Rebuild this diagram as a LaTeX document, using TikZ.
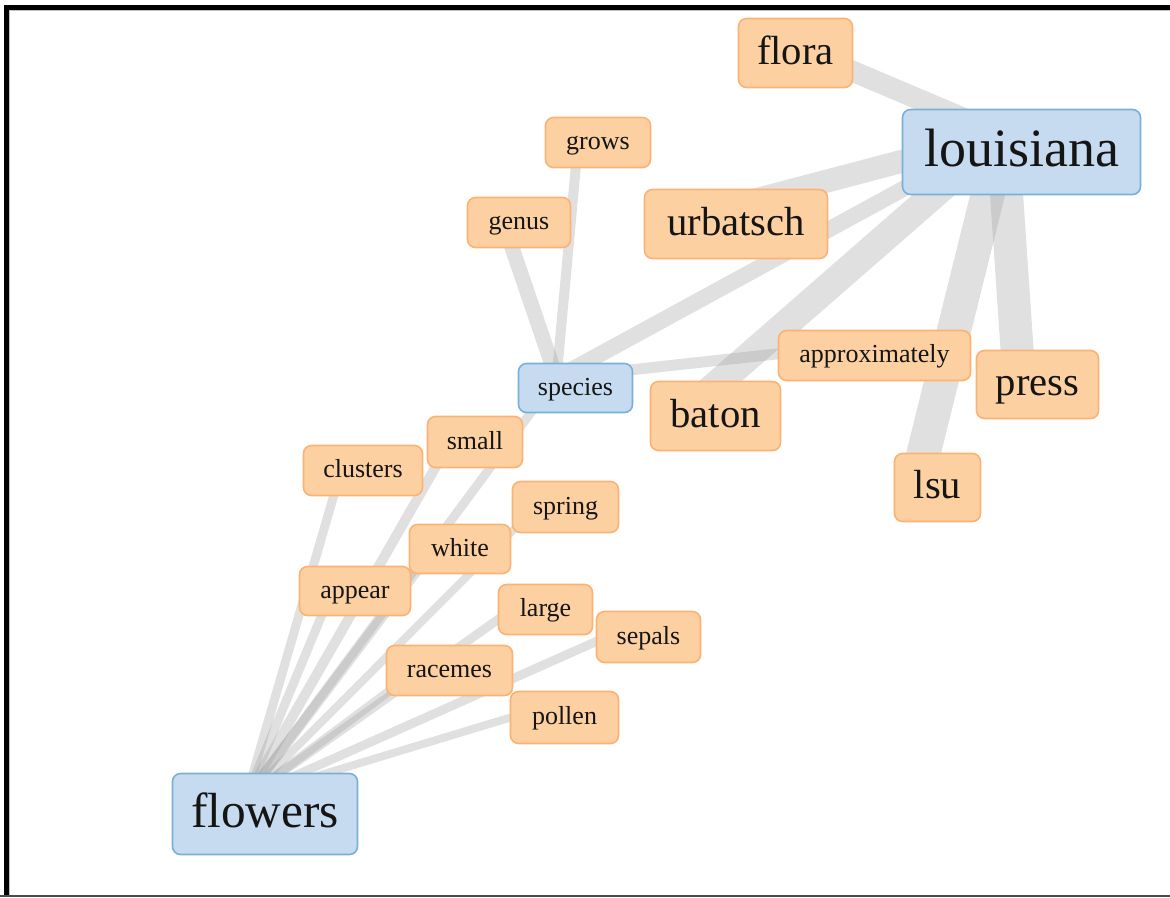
\documentclass[tikz,border=0pt]{standalone}
\usepackage{fontspec}
\setmainfont{Liberation Serif}
\usetikzlibrary{calc}
\pgfdeclarelayer{bg}
\pgfsetlayers{bg,main}
\definecolor{blueF}{HTML}{C6DBEF}
\definecolor{blueD}{HTML}{78B0DA}
\definecolor{orF}{HTML}{FDD0A2}
\definecolor{orD}{HTML}{FBB273}
\definecolor{edgeC}{HTML}{999999}
\definecolor{txt}{HTML}{151515}
\begin{document}
\begin{tikzpicture}[x=0.75pt,y=-0.75pt,
  box/.style={draw, rounded corners=6pt, line width=1.2pt, inner sep=0pt, text=txt, fsmall},
  fsmall/.style={font=\fontsize{19.5}{22}\selectfont, text height=14pt, text depth=3.5pt},
  fmed/.style={font=\fontsize{30.5}{34}\selectfont, text height=22pt, text depth=5.5pt},
  fhuge/.style={font=\fontsize{40.5}{44}\selectfont, text height=29.2pt, text depth=7.3pt},
  fflow/.style={font=\fontsize{37}{40}\selectfont, text height=26.6pt, text depth=6.7pt},
  bnode/.style={box, fill=blueF, draw=blueD},
  onode/.style={box, fill=orF, draw=orD},
  sz/.style 2 args={minimum width=#1*0.75pt, minimum height=#2*0.75pt},
  conn/.style={draw=edgeC, draw opacity=0.3, line cap=butt, line width=#1*0.75pt},
]
\useasboundingbox (0,0) rectangle (1170,897);
% frame
\fill[black] (4,5) rectangle (8.7,897);
\fill[black] (4,5) rectangle (1170,9.5);
\fill[black!25] (8.7,9.5) rectangle (9.6,897);
\fill[black!25] (8.7,9.5) rectangle (1170,10.3);
\fill[black!70] (0,895) rectangle (1170,896.6);

% nodes
\node[onode, fmed, sz={114}{69}] (flora) at (795.5,53) {flora};
\node[bnode, fhuge, sz={238}{85}] (louisiana) at (1021.5,152) {louisiana};
\node[onode, sz={105}{50}] (grows) at (598,142.5) {grows};
\node[onode, sz={103}{50}] (genus) at (519,222.5) {genus};
\node[onode, fmed, sz={183}{69}] (urbatsch) at (736,224) {urbatsch};
\node[onode, sz={192}{50}] (approximately) at (874.5,355.5) {approximately};
\node[onode, fmed, sz={122}{68}] (press) at (1037.5,384.5) {press};
\node[bnode, sz={114}{49}] (species) at (575.5,388) {species};
\node[onode, fmed, sz={130}{69}] (baton) at (715.5,416) {baton};
\node[onode, fmed, sz={86}{68}] (lsu) at (937.5,487.5) {lsu};
\node[onode, sz={95}{51}] (small) at (475,442) {small};
\node[onode, sz={119}{50}] (clusters) at (363,470.5) {clusters};
\node[onode, sz={106}{51}] (spring) at (565.5,507) {spring};
\node[onode, sz={101}{49}] (white) at (460,549) {white};
\node[onode, sz={111}{49}] (appear) at (355,591) {appear};
\node[onode, sz={94}{50}] (large) at (545.5,609.5) {large};
\node[onode, sz={104}{51}] (sepals) at (648.5,637) {sepals};
\node[onode, sz={126}{50}] (racemes) at (449.5,670.5) {racemes};
\node[onode, sz={108}{52}] (pollen) at (564.5,717.5) {pollen};
\node[bnode, fflow, sz={185}{81}] (flowers) at (265,814) {flowers};

% link points
\coordinate (Lflora) at ($(flora.center)+(-19,-14)$);
\coordinate (Llouisiana) at ($(louisiana.center)+(-19,-17.2)$);
\coordinate (Lgrows) at ($(grows.center)+(-19,-10.2)$);
\coordinate (Lgenus) at ($(genus.center)+(-19,-10.2)$);
\coordinate (Lurbatsch) at ($(urbatsch.center)+(-19,-14)$);
\coordinate (Lapproximately) at ($(approximately.center)+(-19,-10.2)$);
\coordinate (Lpress) at ($(press.center)+(-19,-13.8)$);
\coordinate (Lspecies) at ($(species.center)+(-19,-10)$);
\coordinate (Lbaton) at ($(baton.center)+(-19,-14)$);
\coordinate (Llsu) at ($(lsu.center)+(-19,-13.8)$);
\coordinate (Lsmall) at ($(small.center)+(-19,-10.4)$);
\coordinate (Lclusters) at ($(clusters.center)+(-19,-10.2)$);
\coordinate (Lspring) at ($(spring.center)+(-19,-10.4)$);
\coordinate (Lwhite) at ($(white.center)+(-19,-10)$);
\coordinate (Lappear) at ($(appear.center)+(-19,-10)$);
\coordinate (Llarge) at ($(large.center)+(-19,-10.2)$);
\coordinate (Lsepals) at ($(sepals.center)+(-19,-10.4)$);
\coordinate (Lracemes) at ($(racemes.center)+(-19,-10.2)$);
\coordinate (Lpollen) at ($(pollen.center)+(-19,-10.6)$);
\coordinate (Lflowers) at ($(flowers.center)+(-19,-16.4)$);

\begin{pgfonlayer}{bg}
\draw[conn=21] (Lflora) -- (Llouisiana);
\draw[conn=23] (Lurbatsch) -- (Llouisiana);
\draw[conn=16] (Lspecies) -- (Llouisiana);
\draw[conn=28] (Lbaton) -- (Llouisiana);
\draw[conn=34] (Llsu) -- (Llouisiana);
\draw[conn=33] (Lpress) -- (Llouisiana);
\draw[conn=11] (Lspecies) -- (Lapproximately);
\draw[conn=15] (Lspecies) -- (Lgenus);
\draw[conn=10] (Lspecies) -- (Lgrows);
\draw[conn=9] (Lflowers) -- (Lclusters);
\draw[conn=10] (Lflowers) -- (Lsmall);
\draw[conn=9] (Lflowers) -- (Lspecies);
\draw[conn=9] (Lflowers) -- (Lappear);
\draw[conn=10] (Lflowers) -- (Lwhite);
\draw[conn=8] (Lflowers) -- (Lspring);
\draw[conn=9] (Lflowers) -- (Llarge);
\draw[conn=9] (Lflowers) -- (Lsepals);
\draw[conn=9] (Lflowers) -- (Lracemes);
\draw[conn=8] (Lflowers) -- (Lpollen);
\end{pgfonlayer}
\end{tikzpicture}
\end{document}
